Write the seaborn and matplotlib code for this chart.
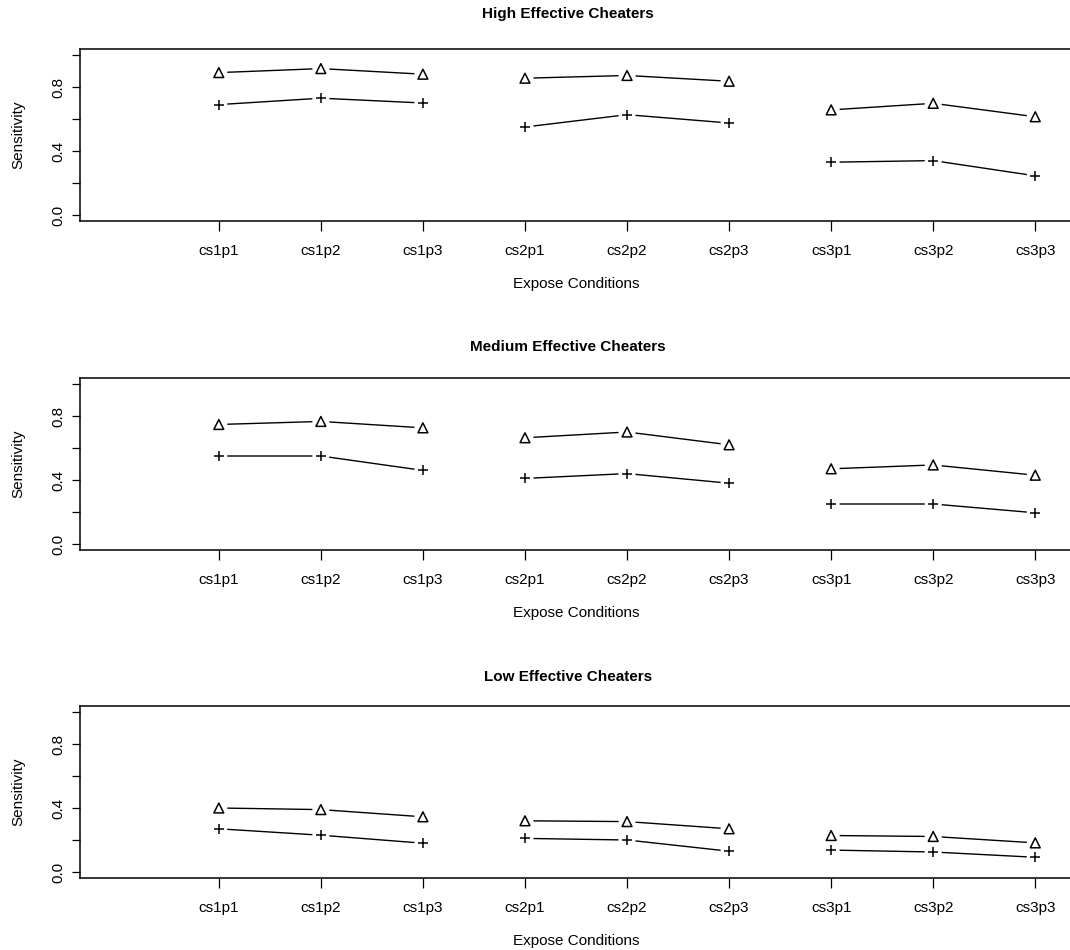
import numpy as np
import pandas as pd
import matplotlib
matplotlib.use("Agg")
import matplotlib.pyplot as plt
import seaborn as sns

# ---------------- data ----------------
conditions = ["cs1p1", "cs1p2", "cs1p3", "cs2p1", "cs2p2", "cs2p3", "cs3p1", "cs3p2", "cs3p3"]
groups = ["cs1", "cs1", "cs1", "cs2", "cs2", "cs2", "cs3", "cs3", "cs3"]
panel_titles = ["High Effective Cheaters", "Medium Effective Cheaters", "Low Effective Cheaters"]

high_triangle = [0.89, 0.915, 0.88, 0.855, 0.872, 0.836, 0.657, 0.698, 0.614]
high_plus = [0.69, 0.73, 0.70, 0.55, 0.627, 0.575, 0.33, 0.34, 0.245]
medium_triangle = [0.747, 0.766, 0.726, 0.664, 0.70, 0.62, 0.47, 0.494, 0.43]
medium_plus = [0.55, 0.55, 0.46, 0.41, 0.44, 0.38, 0.25, 0.25, 0.195]
low_triangle = [0.40, 0.39, 0.345, 0.32, 0.315, 0.27, 0.228, 0.222, 0.182]
low_plus = [0.27, 0.23, 0.18, 0.21, 0.20, 0.13, 0.137, 0.125, 0.092]

y_ticks = [0.0, 0.2, 0.4, 0.6, 0.8, 1.0]
y_tick_labels = ["0.0", "", "0.4", "", "0.8", ""]
x_label = "Expose Conditions"
y_label = "Sensitivity"

panels = [
    (panel_titles[0], high_triangle, high_plus),
    (panel_titles[1], medium_triangle, medium_plus),
    (panel_titles[2], low_triangle, low_plus),
]

# ---------------- style ----------------
sns.set_style("ticks")
plt.rcParams["font.family"] = ["Liberation Sans", "DejaVu Sans"]
plt.rcParams["text.color"] = "black"
plt.rcParams["axes.labelcolor"] = "black"
plt.rcParams["xtick.color"] = "black"
plt.rcParams["ytick.color"] = "black"
plt.rcParams["axes.edgecolor"] = "black"
plt.rcParams["axes.linewidth"] = 1.1

FS = 11

W, H = 1070, 950
fig = plt.figure(figsize=(W / 100, H / 100), dpi=100)
left_px, right_px = 80, 1072
tops = [48.6, 377.6, 705.6]
title_offsets = [35, 31, 29]
h_px = 172.8
w_px = right_px - left_px

positions = np.arange(1, len(conditions) + 1)

for i, (title, tri_vals, plus_vals) in enumerate(panels):
    ax = fig.add_axes([left_px / W, 1 - (tops[i] + h_px) / H, w_px / W, h_px / H])
    df = pd.DataFrame({
        "position": np.concatenate([positions, positions]),
        "value": np.concatenate([tri_vals, plus_vals]),
        "group": groups + groups,
        "series": ["triangle"] * len(conditions) + ["plus"] * len(conditions),
    })
    df["unit"] = df["series"] + "_" + df["group"]

    # connecting lines (within each group of three)
    sns.lineplot(data=df, x="position", y="value", units="unit", estimator=None,
                 color="black", linewidth=1.0, ax=ax, legend=False, sort=False, zorder=1)
    # white gaps around points (R type = "b")
    sns.scatterplot(data=df, x="position", y="value", marker="o", s=150,
                    color="white", edgecolor="none", linewidth=0, ax=ax, legend=False, zorder=2)
    tri = df[df["series"] == "triangle"]
    pl = df[df["series"] == "plus"]
    sns.scatterplot(data=tri, x="position", y="value", marker="^", s=50,
                    facecolor="none", edgecolor="black", linewidth=1.1, ax=ax, legend=False, zorder=3)
    sns.scatterplot(data=pl, x="position", y="value", marker="+", s=45,
                    color="black", linewidth=1.1, ax=ax, legend=False, zorder=3)

    ax.set_xlim(-0.36, 9.36)
    ax.set_ylim(-0.04, 1.04)
    ax.set_xticks(positions)
    ax.set_xticklabels(conditions, fontsize=FS)
    ax.set_yticks(y_ticks)
    ax.set_yticklabels(y_tick_labels, fontsize=FS, rotation=90, va="center")
    ax.tick_params(axis="x", length=7.5, width=0.9, pad=8.5)
    ax.tick_params(axis="y", length=5.5, width=0.9, pad=5)
    for sp in ax.spines.values():
        sp.set_visible(True)
        sp.set_color("black")
        sp.set_linewidth(1.1)

    ax.set_xlabel(x_label, fontsize=FS)
    ax.xaxis.set_label_coords(0.5, -62.6 / h_px)
    ax.xaxis.label.set_va("center")
    ax.set_ylabel(y_label, fontsize=FS)
    ax.yaxis.set_label_coords((18 - left_px) / w_px, 0.5)
    ax.yaxis.label.set_va("center")

    ax.text(0.5 - 8 / w_px, 1 + title_offsets[i] / h_px, title, transform=ax.transAxes,
            ha="center", va="center", fontsize=FS, fontweight="bold")

fig.savefig("out.png", dpi=100)
